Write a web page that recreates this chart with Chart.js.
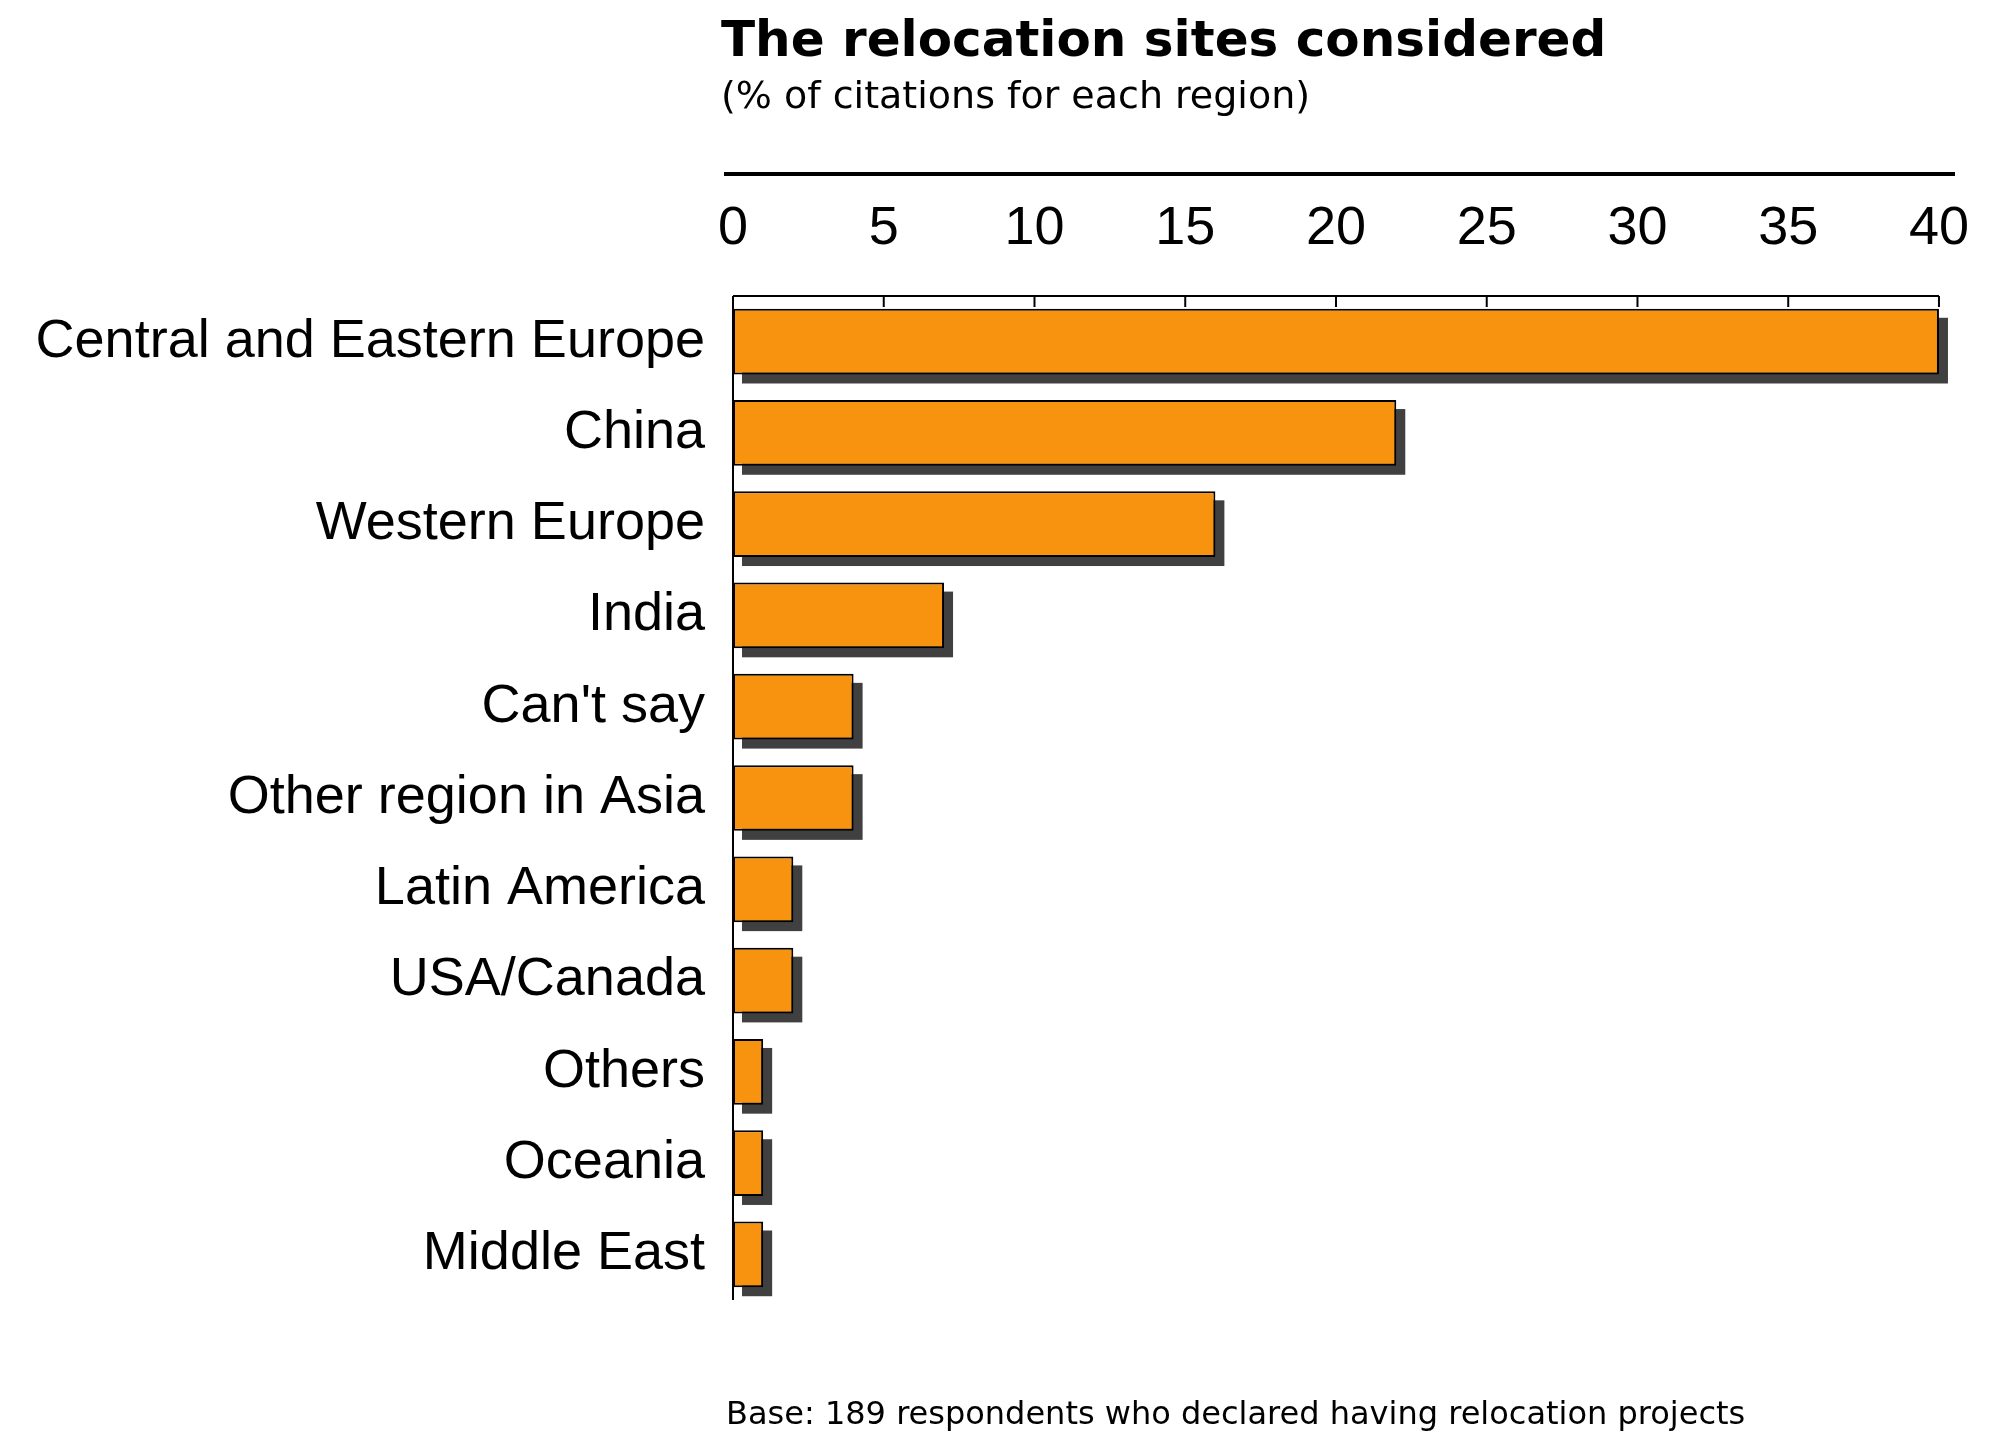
<!DOCTYPE html>
<html><head><meta charset="utf-8">
<script src="https://cdn.jsdelivr.net/npm/chart.js@4"></script>
<style>html,body{margin:0;padding:0;background:#fff}canvas{display:block}</style>
</head><body>
<canvas id="c" width="1995" height="1432"></canvas>
<script>
const categories = ["Central and Eastern Europe","China","Western Europe","India","Can't say","Other region in Asia","Latin America","USA/Canada","Others","Oceania","Middle East"];
const values = [40,22,16,7,4,4,2,2,1,1,1];
const tickValues = [0,5,10,15,20,25,30,35,40];

const deco = {
  id:'deco',
  beforeDatasetsDraw(chart){
    const ctx=chart.ctx, meta=chart.getDatasetMeta(0);
    ctx.save(); ctx.fillStyle='#404040';
    meta.data.forEach(b=>{
      const h=b.height; ctx.fillRect(b.base+9, b.y-h/2+9, b.x-b.base, h);
    });
    ctx.restore();
  },
  afterDraw(chart){
    const ctx=chart.ctx, a=chart.chartArea, x=chart.scales.x;
    ctx.save();
    ctx.strokeStyle='#000'; ctx.lineWidth=2;
    ctx.beginPath(); ctx.moveTo(a.left,a.top); ctx.lineTo(a.right,a.top); ctx.stroke();
    ctx.beginPath(); ctx.moveTo(a.left,a.top); ctx.lineTo(a.left,a.bottom); ctx.stroke();
    tickValues.forEach(v=>{const px=x.getPixelForValue(v);ctx.beginPath();ctx.moveTo(px,a.top);ctx.lineTo(px,a.top+11);ctx.stroke();});
    ctx.lineWidth=4;
    ctx.beginPath(); ctx.moveTo(724,174); ctx.lineTo(1955,174); ctx.stroke();
    ctx.fillStyle='#000'; ctx.textBaseline='alphabetic'; ctx.textAlign='left';
    ctx.font='bold 50px "DejaVu Sans"'; ctx.fillText('The relocation sites considered',721,56);
    ctx.font='38px "DejaVu Sans"'; ctx.fillText('(% of citations for each region)',721,108);
    ctx.font='32px "DejaVu Sans"'; ctx.fillText('Base: 189 respondents who declared having relocation projects',726,1424);
    ctx.restore();
  }
};

new Chart(document.getElementById('c'),{
  type:'bar',
  data:{labels:categories,datasets:[{data:values,backgroundColor:'#F7930F',borderColor:'#000',borderWidth:2,borderSkipped:false,barPercentage:0.72,categoryPercentage:1}]},
  options:{
    responsive:false,animation:false,indexAxis:'y',
    layout:{padding:{top:0,right:32,bottom:132,left:0}},
    plugins:{legend:{display:false},tooltip:{enabled:false}},
    scales:{
      x:{position:'top',min:0,max:40,
        afterBuildTicks(s){s.ticks=tickValues.map(v=>({value:v}));},
        afterFit(s){s.height=296;},
        grid:{display:false},border:{display:false},
        ticks:{padding:26,color:'#000',font:{family:'"Liberation Sans"',size:54}}},
      y:{afterFit(s){s.width=733;},
        grid:{display:false},border:{display:false},
        ticks:{padding:20,color:'#000',font:{family:'"Liberation Sans"',size:54}}}
    }
  },
  plugins:[deco]
});
</script>
</body></html>
